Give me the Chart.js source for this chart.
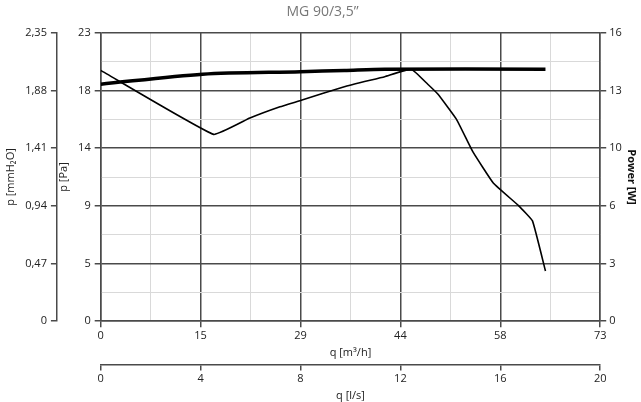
<!DOCTYPE html>
<html>
<head>
<meta charset="utf-8">
<script src="https://cdn.jsdelivr.net/npm/chart.js@4"></script>
<style>
  html, body { margin: 0; padding: 0; background: #fff; }
  #wrap { width: 641px; height: 402px; }
</style>
</head>
<body>
<div id="wrap"><canvas id="fan-chart"></canvas></div>
<script>
// ---- data ----
const qM3hLabels = ['0', '15', '29', '44', '58', '73'];
const qLsLabels = ['0', '4', '8', '12', '16', '20'];
const paLabels = ['0', '5', '9', '14', '18', '23'];
const mmH2OLabels = ['0', '0,47', '0,94', '1,41', '1,88', '2,35'];
const powerLabels = ['0', '3', '6', '10', '13', '16'];

// thin curve, q [m³/h] vs p [Pa]
const curveQ = [0, 16.5, 21.8, 26.2, 29.2, 35.6, 41.5, 45.4, 47.8, 49.3, 52.0, 54.4, 57.4, 61.1, 63.1, 65.0];
const curveP = [20.0, 14.9, 16.2, 17.1, 17.6, 18.7, 19.5, 20.1, 18.9, 18.1, 16.1, 13.5, 11.0, 9.2, 8.0, 4.0];

// thick curve, q [m³/h] vs p [Pa] scale
const thickQ = [0, 14.9, 29.2, 35.6, 41.5, 65.0];
const thickP = [18.9, 19.7, 19.9, 20.0, 20.1, 20.1];

const MAJOR = '#4a4a4a';
const MINOR = '#d9d9d9';
const FONT = { family: 'Open Sans', size: 11 };

const toPts = (xs, ys) => xs.map((x, i) => ({ x, y: ys[i] }));
const majorLabel = (arr) => (v, i) => (i % 2 === 0 ? arr[i / 2] : '');
const gridColor = (ctx) => (ctx.index % 2 === 0 ? MAJOR : MINOR);
const gridWidth = (ctx) => (ctx.index % 2 === 0 ? 1.5 : 1);
const tickMarkColor = (ctx) => (ctx.index % 2 === 0 ? MAJOR : 'rgba(0,0,0,0)');

function mainGrid() {
  return { color: gridColor, lineWidth: gridWidth, tickLength: 6, tickColor: tickMarkColor };
}
function sideGrid() {
  return { drawOnChartArea: false, tickLength: 6, tickColor: tickMarkColor, lineWidth: 1.5 };
}
const border = { display: true, color: MAJOR, width: 1.5 };

new Chart(document.getElementById('fan-chart'), {
  type: 'line',
  data: {
    datasets: [
      { data: toPts(curveQ, curveP), borderColor: '#000', borderWidth: 1.6, pointRadius: 0, tension: 0.1, fill: false },
      { data: toPts(thickQ, thickP), borderColor: '#000', borderWidth: 3.5, pointRadius: 0, tension: 0.3, fill: false }
    ]
  },
  options: {
    responsive: true,
    maintainAspectRatio: false,
    animation: false,
    layout: { padding: { top: 4, right: 0, left: 4, bottom: 0 } },
    plugins: {
      legend: { display: false },
      tooltip: { enabled: false },
      title: {
        display: true, text: 'MG 90/3,5”', color: '#777',
        font: { family: 'Open Sans', size: 14, weight: 'normal' }, padding: { top: 0, bottom: 12 }
      }
    },
    scales: {
      x: {
        type: 'linear', position: 'bottom', min: 0, max: 73,
        afterBuildTicks: (s) => { s.ticks = Array.from({ length: 11 }, (_, i) => ({ value: i * 7.3 })); },
        ticks: { callback: majorLabel(qM3hLabels), color: '#222', font: FONT, autoSkip: false, maxRotation: 0, padding: 2 },
        grid: mainGrid(), border,
        title: { display: true, text: 'q [m³/h]', color: '#222', font: FONT, padding: { top: 2, bottom: 5 } }
      },
      x2: {
        type: 'linear', position: 'bottom', min: 0, max: 20,
        afterBuildTicks: (s) => { s.ticks = Array.from({ length: 11 }, (_, i) => ({ value: i * 2 })); },
        ticks: { callback: majorLabel(qLsLabels), color: '#222', font: FONT, autoSkip: false, maxRotation: 0, padding: 2 },
        grid: sideGrid(), border,
        title: { display: true, text: 'q [l/s]', color: '#222', font: FONT, padding: { top: 1, bottom: 0 } }
      },
      y: {
        type: 'linear', position: 'left', min: 0, max: 23,
        afterBuildTicks: (s) => { s.ticks = Array.from({ length: 11 }, (_, i) => ({ value: i * 2.3 })); },
        ticks: { callback: majorLabel(paLabels), color: '#222', font: FONT, autoSkip: false, padding: 4 },
        grid: mainGrid(), border,
        title: { display: true, text: 'p [Pa]', color: '#222', font: FONT, padding: { top: 0, bottom: 4 } }
      },
      y2: {
        type: 'linear', position: 'left', min: 0, max: 2.35,
        afterBuildTicks: (s) => { s.ticks = Array.from({ length: 11 }, (_, i) => ({ value: i * 0.235 })); },
        ticks: { callback: majorLabel(mmH2OLabels), color: '#222', font: FONT, autoSkip: false, padding: 4 },
        grid: sideGrid(), border,
        title: { display: true, text: 'p [mmH₂O]', color: '#222', font: FONT, padding: { top: 0, bottom: 4 } }
      },
      yPower: {
        type: 'linear', position: 'right', min: 0, max: 16,
        afterBuildTicks: (s) => { s.ticks = Array.from({ length: 11 }, (_, i) => ({ value: i * 1.6 })); },
        ticks: { callback: majorLabel(powerLabels), color: '#222', font: FONT, autoSkip: false, padding: 3 },
        grid: sideGrid(), border,
        title: { display: true, text: 'Power [W]', color: '#111', font: { family: 'Open Sans', size: 11, weight: 'bold' }, padding: { top: 3, bottom: 0 } }
      }
    }
  }
});
</script>
</body>
</html>
